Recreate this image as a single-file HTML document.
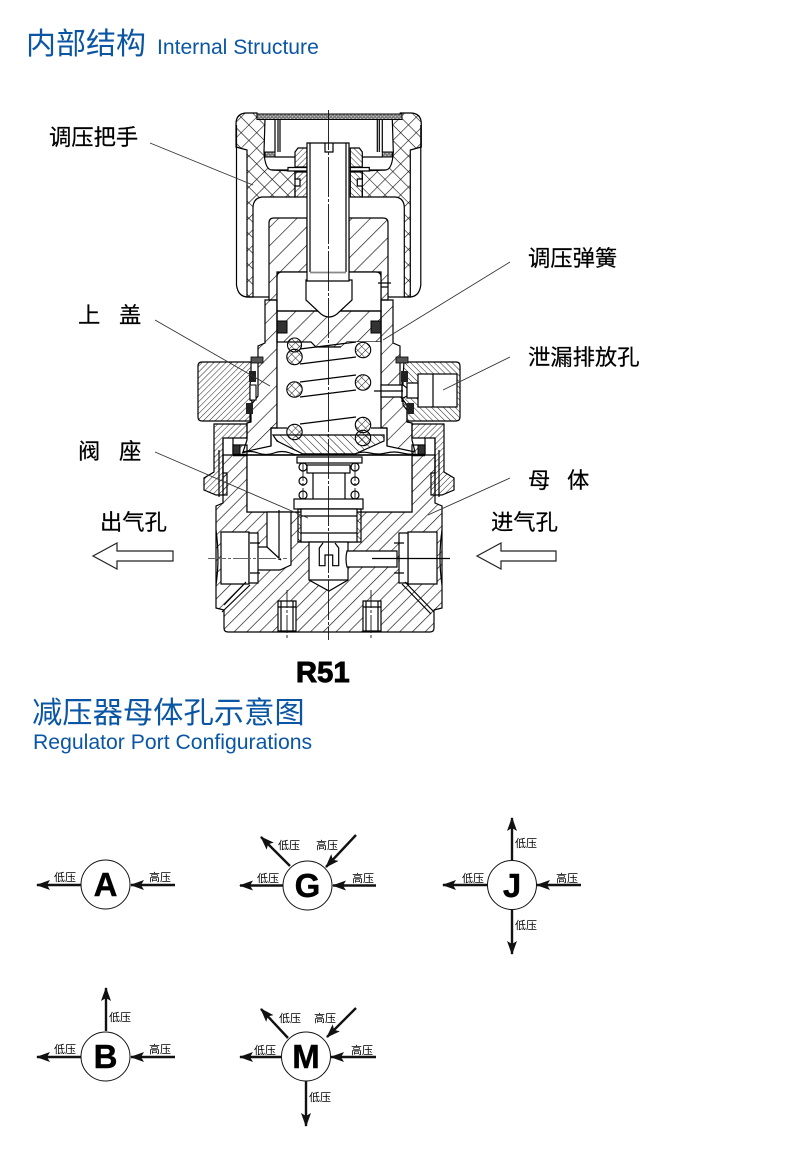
<!DOCTYPE html>
<html><head><meta charset="utf-8"><style>
html,body{margin:0;padding:0;background:#fff}
svg{display:block}
text{font-family:"Liberation Sans","WenQuanYi Zen Hei","Noto Sans CJK SC",sans-serif}
.t{fill:#0b56a4}
.c{font-family:"Noto Sans CJK SC","WenQuanYi Zen Hei",sans-serif;fill:#000;font-size:22.300px;stroke:#000;stroke-width:.2}
.s{font-family:"Noto Sans CJK SC","WenQuanYi Zen Hei",sans-serif;fill:#000;font-size:11px;text-anchor:middle}
.b{font-weight:bold;font-size:33px;text-anchor:middle;fill:#000;stroke:#000;stroke-width:.4}
.l{fill:none;stroke:#000;stroke-width:1.200}
.h{fill:url(#h1);stroke:#000;stroke-width:1.200}
.h2{fill:url(#h2);stroke:#000;stroke-width:1.200}
.h3{fill:url(#h3);stroke:#000;stroke-width:1.200}
.hf{fill:url(#hf);stroke:#000;stroke-width:1.200}
.hb{fill:url(#hb);stroke:#000;stroke-width:1.200}
.x{fill:url(#xh);stroke:#000;stroke-width:1.200}
.w{fill:#fff;stroke:#000;stroke-width:1.200}
.k{fill:url(#xs);stroke:#000;stroke-width:1.100}
.cl{fill:none;stroke:#111;stroke-width:.9;stroke-dasharray:40 2 3 2}
.cg{fill:none;stroke:#111;stroke-width:.9;stroke-dasharray:18 2 3 2}
.ld{stroke:#333;stroke-width:.9;fill:none}
.a{stroke:#111;stroke-width:2.400;fill:none}
</style></head><body>
<svg width="790" height="1150" viewBox="0 0 790 1150" xmlns="http://www.w3.org/2000/svg">
<defs>
<pattern id="h1" width="9" height="9" patternUnits="userSpaceOnUse" patternTransform="rotate(45)"><line x1="0" y1="0" x2="0" y2="9" stroke="#111" stroke-width="1.300"/></pattern>
<pattern id="h2" width="13" height="13" patternUnits="userSpaceOnUse" patternTransform="rotate(45)"><line x1="0" y1="0" x2="0" y2="13" stroke="#111" stroke-width="1.300"/></pattern>
<pattern id="h3" width="5.500" height="5.500" patternUnits="userSpaceOnUse" patternTransform="rotate(-45)"><line x1="0" y1="0" x2="0" y2="5.500" stroke="#111" stroke-width="1"/></pattern>
<pattern id="hf" width="4.200" height="4.200" patternUnits="userSpaceOnUse" patternTransform="rotate(45)"><line x1="0" y1="0" x2="0" y2="4.200" stroke="#222" stroke-width="1"/></pattern>
<pattern id="hb" width="4.200" height="4.200" patternUnits="userSpaceOnUse" patternTransform="rotate(-45)"><line x1="0" y1="0" x2="0" y2="4.200" stroke="#222" stroke-width="1"/></pattern>
<pattern id="xh" width="11" height="11" patternUnits="userSpaceOnUse" patternTransform="rotate(45)"><path d="M0 0V11M0 0H11" stroke="#111" stroke-width="1.200" fill="none"/></pattern>
<pattern id="xs" width="5.500" height="5.500" patternUnits="userSpaceOnUse" patternTransform="rotate(45)"><path d="M0 0V5.500M0 0H5.500" stroke="#222" stroke-width="1" fill="none"/></pattern>
<pattern id="xt" width="2.600" height="2.600" patternUnits="userSpaceOnUse" patternTransform="rotate(45)"><rect width="2.600" height="2.600" fill="#777"/><rect width="1.300" height="1.300" fill="#ccc"/></pattern>
<marker id="ah" viewBox="0 0 14 10" refX="13" refY="5" markerWidth="14" markerHeight="10" markerUnits="userSpaceOnUse" orient="auto"><path d="M0 0L14 5L0 10L3 5Z" fill="#111"/></marker>
<g id="hl">
<path class="x" d="M236,124Q236,113 247,113H257V119H265L264,152Q265,170 272,170L295,171V197H262Q253,198 253,208V297H247V150L236,147Z"/>
<path class="l" d="M236.500,125V285Q238,297 248,297H269"/>
<rect x="265" y="152" width="10" height="5" fill="url(#xt)" stroke="#000"/>
<path class="l" d="M275,119V152M278,119V152M280,119V152"/>
<path class="hf" d="M295,152L298,148H307V167H295Z"/>
<path class="hf" d="M295,172H307V197H295V186H300V179H295Z"/>
<path class="w" d="M288,167.500H307V171H288Z"/>
<path class="l" d="M275,157H295M272,170H288"/>
</g>
</defs>
<rect width="790" height="1150" fill="#fff"/>

<text class="t" x="26" y="54" style="font-size:30px">内部结构</text>
<text class="t" x="157" y="54" style="font-size:21.100px">Internal Structure</text>
<text x="296" y="682" style="font-size:29px;font-weight:bold;stroke:#000;stroke-width:1;letter-spacing:.2px">R51</text>
<text class="t" x="32" y="723" style="font-size:30.300px">减压器母体孔示意图</text>
<text class="t" x="33" y="749" style="font-size:21.200px">Regulator Port Configurations</text>

<text class="c" x="49" y="145">调压把手</text>
<text class="c" x="528" y="266">调压弹簧</text>
<text class="c" x="78" y="323">上</text><text class="c" x="119" y="323">盖</text>
<text class="c" x="528" y="365">泄漏排放孔</text>
<text class="c" x="78" y="459">阀</text><text class="c" x="119" y="459">座</text>
<text class="c" x="528" y="488">母</text><text class="c" x="567" y="488">体</text>
<text class="c" x="100" y="530">出气孔</text>
<text class="c" x="491" y="530">进气孔</text>

<!-- body -->
<path class="h" d="M216,506V608L224,610V628Q224,632 228,632H430Q434,632 434,628V610L442,608V506L435,503V455H425V445H412V512H247V445H233V455H223V503Z"/>
<rect class="w" x="247" y="455" width="165" height="57"/>
<!-- neck nuts -->
<path class="hf" d="M214,424H247V438H223V473H227V495H216L204,490V478L214,472Z"/>
<path class="hf" d="M444,424H412V438H435V473H431V495H442L454,490V478L444,472Z"/>
<path class="l" d="M219,450V497M223,438V495M233,438V455M439,450V497M435,438V495M425,438V455"/>
<rect x="233" y="445" width="7" height="10" fill="#333" stroke="#000"/><rect x="418" y="445" width="7" height="10" fill="#333" stroke="#000"/>
<path d="M233,455H247M412,455H425" stroke="#000" stroke-width="2.500"/>

<!-- bonnet lower -->
<path class="h2" d="M265,300V343L258,346V396L251,405V422L247,423V440L243,452L271,446V428H277V300Z"/>
<path class="h2" d="M393,300V343L400,346V396L407,405V422L412,423V440L415,452L387,446V428H381V300Z"/>

<!-- upper cap of bonnet -->
<path class="h2" d="M269,300V223Q269,218 274,218H307V272H277V300Z"/>
<path class="h2" d="M388,300V223Q388,218 383,218H349V272H381V300Z"/>
<!-- knob -->
<use href="#hl"/>
<use href="#hl" transform="translate(657.300,0) scale(-1,1)"/>
<rect x="257" y="114" width="145" height="5.500" fill="url(#xt)" stroke="#000"/>
<!-- piston -->
<path class="w" d="M277,300V277Q277,272 282,272H376Q381,272 381,277V311H277Z"/>
<path class="h2" d="M277,311H381V342H347L341,347H316L311,342H277Z"/>
<rect x="277" y="321" width="10" height="12" fill="#333" stroke="#000"/><rect x="371" y="321" width="10" height="12" fill="#333" stroke="#000"/>
<path class="w" d="M306,280H352V300L337,314Q329,320 321,314L306,300Z"/>
<!-- stem -->
<path class="w" d="M307,143H349V281H307Z"/>
<path class="l" d="M310,143V272M346,143V272M325,143V152H333V143"/>
<path stroke="#888" stroke-width="1.800" d="M310,272.500H346"/>
<path class="l" d="M378,283H391M381,287H388"/>

<!-- spring chamber -->
<path fill="#fff" d="M277.500,347H311L316,347H341L347,342H380.500V428H277.500Z"/>
<path class="l" d="M277,300V428M381,300V428"/>
<path class="l" d="M316,347H341"/>
<path class="l" d="M300,349L356,342M300,364L356,357M300,382L356,375M300,397L356,390M300,424L356,417"/>
<circle class="k" cx="294.500" cy="345" r="7"/><circle class="k" cx="294.500" cy="357" r="7.700"/><circle class="k" cx="294.500" cy="389.500" r="7.700"/><circle class="k" cx="294.500" cy="432" r="7.700"/>
<circle class="k" cx="363" cy="350" r="7.700"/><circle class="k" cx="363" cy="382.500" r="7.700"/><circle class="k" cx="363" cy="438" r="7.700"/><circle class="k" cx="363" cy="425" r="7.700"/>
<!-- seat -->
<path class="l" d="M271,428H287M371,428H387M271,428V446M387,428V446"/>
<path class="h3" d="M273,435H384V441L355,454H303L277,441Z"/>
<path class="l" d="M242,453Q250,450 258,453T274,453T290,453T303,454H355Q362,451 370,453T386,453T402,453T416,454"/>
<path stroke="#000" stroke-width="1.500" d="M247,455H412"/>

<!-- side blocks -->
<path class="hf" d="M202,362H251V377L250,385V400L252,401V404L247,407L250,412V421H202Q198,421 198,417V366Q198,362 202,362Z"/>
<path d="M250,385H256V400H250Z" fill="#fff" stroke="#000" stroke-width="1.100"/>
<path class="hb" d="M404,362H456Q460,362 460,366V417Q460,421 456,421H407V410L403,405V398L407,396V388L403,385V377Z"/>
<rect class="w" x="418" y="374" width="39" height="33"/>
<path class="l" d="M433,374V407"/>
<path class="w" d="M407,383H418V398H407Z"/>
<path class="w" d="M381,385H402V397H381Z"/>
<path class="l" d="M374,391H403M402,377V402"/>
<rect x="251" y="357" width="12" height="6" fill="#555" stroke="#000" stroke-width=".8"/>
<rect x="396" y="357" width="12" height="6" fill="#555" stroke="#000" stroke-width=".8"/>
<rect x="249" y="371" width="7" height="11" fill="#222"/><rect x="246" y="403" width="7" height="11" fill="#222"/>
<rect x="401" y="371" width="7" height="11" fill="#222"/><rect x="407" y="403" width="7" height="11" fill="#222"/>

<!-- valve -->
<rect class="w" x="297" y="457" width="65" height="6"/>
<rect class="w" x="307" y="465" width="43" height="8"/>
<path class="l" d="M313,473V499M345,473V499"/>
<g class="l"><circle cx="303" cy="467" r="4"/><circle cx="303" cy="481" r="4"/><circle cx="303" cy="495" r="4"/><circle cx="355" cy="467" r="4"/><circle cx="355" cy="481" r="4"/><circle cx="355" cy="495" r="4"/></g>
<path class="cg" d="M303,463V510M355,463V510"/>
<rect class="w" x="294" y="499" width="69" height="10"/>
<path class="h3" d="M298,509H361V542H298Z"/>
<rect class="w" x="301" y="509" width="56" height="33"/>
<path class="l" d="M301,516H357M301,533H357"/>
<path class="w" d="M309,542H348V580L329,591L309,580Z"/>
<path class="l" d="M309,580H348M323,543L319.300,548V565.700H325V555H332.700V565.700H338.700V548L335,543"/>

<!-- channels -->
<path class="w" d="M267,512H291V565L280,570H255V547H267Z"/>
<path class="l" d="M267,547L281,560M279,510V560"/>
<path class="w" d="M347,551H397V567H347Q345,559 347,551Z"/>
<!-- ports -->
<path class="w" d="M221,532H249V584H221Z"/><path class="w" d="M249,533H258V583H249Z"/>
<path class="w" d="M408,532H437V584H408Z"/><path class="w" d="M399,533H408V583H399Z"/>
<path class="l" d="M216,530Q220,558 216,585M442,530Q438,558 442,585M404,543H394M404,573H394M260,543H250M260,573H250M399,555V562"/>
<path class="l" d="M405,582L434,612M402,584L431,614M250,585L222,612M246,582L224,605"/>
<!-- blind holes -->
<path class="w" d="M278,601H296V631H278Z"/><path class="w" d="M363,601H381V631H363Z"/>
<path class="l" d="M278,607H296M363,607H381M281,601V631M293,601V631M366,601V631M378,601V631"/>
<path class="cg" d="M287,590V640M371,590V640"/>
<!-- center lines -->
<path class="cl" d="M328.500,110V640"/>
<path class="cg" style="stroke:#666" d="M208,558.500H287"/>
<path class="l" d="M372,558.500H450"/>

<!-- leaders -->
<path class="ld" d="M150,143L253,185M510,262L383,340M155,320L270,386M510,357L443,390M155,452L308,518M510,478L428,515"/>

<!-- big arrows -->
<path d="M93,556L117,543V551H173V561H117V569Z" fill="#fff" stroke="#222" stroke-width="1.200"/>
<path d="M477,556L501,543V551H556V561H501V569Z" fill="#fff" stroke="#222" stroke-width="1.200"/>

<!-- port diagrams -->
<g>
<path class="a" marker-end="url(#ah)" d="M81,885H37"/>
<path class="a" marker-end="url(#ah)" d="M175,885H131"/>
<circle cx="105.500" cy="884.500" r="24.500" fill="#fff" stroke="#111"/>
<text class="b" x="105.500" y="896">A</text>
<text class="s" x="65" y="881">低压</text><text class="s" x="160" y="881">高压</text>

<path class="a" marker-end="url(#ah)" d="M283,885.500H240"/>
<path class="a" marker-end="url(#ah)" d="M376,885.500H333"/>
<path class="a" marker-end="url(#ah)" d="M290,866L261,837"/>
<path class="a" marker-end="url(#ah)" d="M356,835L326,867"/>
<circle cx="307.500" cy="885.500" r="24.500" fill="#fff" stroke="#111"/>
<text class="b" x="307.500" y="897">G</text>
<text class="s" x="289" y="849">低压</text><text class="s" x="327" y="849">高压</text>
<text class="s" x="268" y="882">低压</text><text class="s" x="363" y="882">高压</text>

<path class="a" marker-end="url(#ah)" d="M512,860V818"/>
<path class="a" marker-end="url(#ah)" d="M512,910V954"/>
<path class="a" marker-end="url(#ah)" d="M487,885H443"/>
<path class="a" marker-end="url(#ah)" d="M581,885H537"/>
<circle cx="512" cy="885" r="24.500" fill="#fff" stroke="#111"/>
<text class="b" x="512" y="897">J</text>
<text class="s" x="526" y="847">低压</text><text class="s" x="567" y="882">高压</text>
<text class="s" x="473" y="882">低压</text><text class="s" x="526" y="929">低压</text>

<path class="a" marker-end="url(#ah)" d="M106,1031V988"/>
<path class="a" marker-end="url(#ah)" d="M81,1057H37"/>
<path class="a" marker-end="url(#ah)" d="M175,1057H131"/>
<circle cx="105.500" cy="1056.500" r="24.500" fill="#fff" stroke="#111"/>
<text class="b" x="105.500" y="1068">B</text>
<text class="s" x="120" y="1021">低压</text><text class="s" x="65" y="1053">低压</text><text class="s" x="160" y="1053">高压</text>

<path class="a" marker-end="url(#ah)" d="M288,1038L261,1009"/>
<path class="a" marker-end="url(#ah)" d="M356,1008L327,1037"/>
<path class="a" marker-end="url(#ah)" d="M281,1057H240"/>
<path class="a" marker-end="url(#ah)" d="M376,1057H331"/>
<path class="a" marker-end="url(#ah)" d="M306,1081V1126"/>
<circle cx="306" cy="1056.500" r="24.500" fill="#fff" stroke="#111"/>
<text class="b" x="306" y="1068">M</text>
<text class="s" x="290" y="1022">低压</text><text class="s" x="325" y="1022">高压</text>
<text class="s" x="265" y="1054">低压</text><text class="s" x="362" y="1054">高压</text>
<text class="s" x="320" y="1101">低压</text>
</g>
</svg>
</body></html>
